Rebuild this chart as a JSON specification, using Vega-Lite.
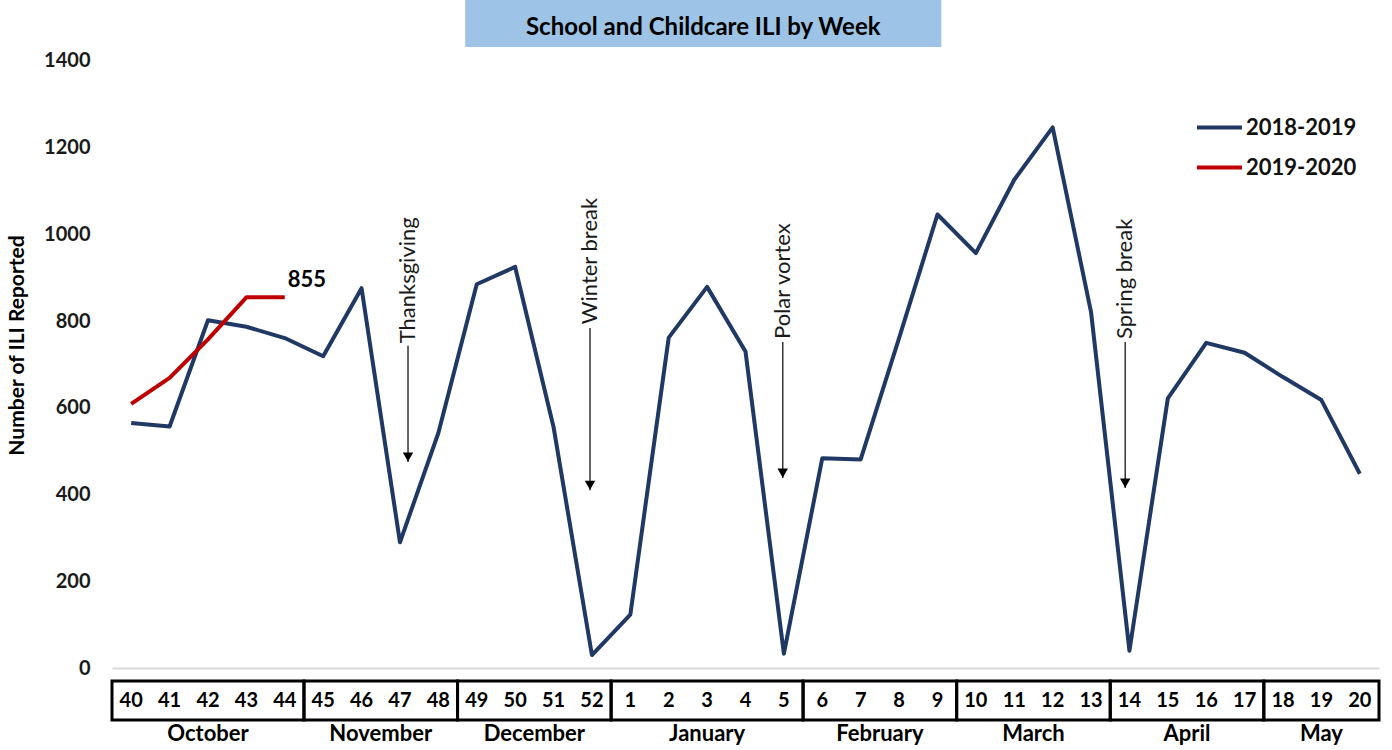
{
  "$schema": "https://vega.github.io/schema/vega-lite/v6.json",
  "width": 1267,
  "height": 750,
  "autosize": {"type": "none"},
  "padding": {"left": 112, "top": 0, "right": 13, "bottom": 0},
  "background": "white",
  "config": {"view": {"stroke": null}, "font": "Lato"},
  "datasets": {
    "ili": [
      {"week": "40", "idx": 0, "month": "October", "season": "2018-2019", "ili": 565},
      {"week": "41", "idx": 1, "month": "October", "season": "2018-2019", "ili": 557},
      {"week": "42", "idx": 2, "month": "October", "season": "2018-2019", "ili": 802},
      {"week": "43", "idx": 3, "month": "October", "season": "2018-2019", "ili": 787},
      {"week": "44", "idx": 4, "month": "October", "season": "2018-2019", "ili": 761},
      {"week": "45", "idx": 5, "month": "November", "season": "2018-2019", "ili": 719},
      {"week": "46", "idx": 6, "month": "November", "season": "2018-2019", "ili": 876},
      {"week": "47", "idx": 7, "month": "November", "season": "2018-2019", "ili": 290},
      {"week": "48", "idx": 8, "month": "November", "season": "2018-2019", "ili": 542},
      {"week": "49", "idx": 9, "month": "December", "season": "2018-2019", "ili": 885},
      {"week": "50", "idx": 10, "month": "December", "season": "2018-2019", "ili": 925},
      {"week": "51", "idx": 11, "month": "December", "season": "2018-2019", "ili": 556},
      {"week": "52", "idx": 12, "month": "December", "season": "2018-2019", "ili": 30},
      {"week": "1", "idx": 13, "month": "January", "season": "2018-2019", "ili": 123},
      {"week": "2", "idx": 14, "month": "January", "season": "2018-2019", "ili": 762},
      {"week": "3", "idx": 15, "month": "January", "season": "2018-2019", "ili": 879},
      {"week": "4", "idx": 16, "month": "January", "season": "2018-2019", "ili": 730},
      {"week": "5", "idx": 17, "month": "January", "season": "2018-2019", "ili": 33},
      {"week": "6", "idx": 18, "month": "February", "season": "2018-2019", "ili": 484},
      {"week": "7", "idx": 19, "month": "February", "season": "2018-2019", "ili": 481},
      {"week": "8", "idx": 20, "month": "February", "season": "2018-2019", "ili": 761},
      {"week": "9", "idx": 21, "month": "February", "season": "2018-2019", "ili": 1046},
      {"week": "10", "idx": 22, "month": "March", "season": "2018-2019", "ili": 957},
      {"week": "11", "idx": 23, "month": "March", "season": "2018-2019", "ili": 1126},
      {"week": "12", "idx": 24, "month": "March", "season": "2018-2019", "ili": 1247},
      {"week": "13", "idx": 25, "month": "March", "season": "2018-2019", "ili": 821},
      {"week": "14", "idx": 26, "month": "April", "season": "2018-2019", "ili": 40},
      {"week": "15", "idx": 27, "month": "April", "season": "2018-2019", "ili": 622},
      {"week": "16", "idx": 28, "month": "April", "season": "2018-2019", "ili": 750},
      {"week": "17", "idx": 29, "month": "April", "season": "2018-2019", "ili": 727},
      {"week": "18", "idx": 30, "month": "May", "season": "2018-2019", "ili": 671},
      {"week": "19", "idx": 31, "month": "May", "season": "2018-2019", "ili": 618},
      {"week": "20", "idx": 32, "month": "May", "season": "2018-2019", "ili": 448},
      {"week": "40", "idx": 0, "month": "October", "season": "2019-2020", "ili": 609},
      {"week": "41", "idx": 1, "month": "October", "season": "2019-2020", "ili": 669},
      {"week": "42", "idx": 2, "month": "October", "season": "2019-2020", "ili": 758},
      {"week": "43", "idx": 3, "month": "October", "season": "2019-2020", "ili": 855},
      {"week": "44", "idx": 4, "month": "October", "season": "2019-2020", "ili": 855}
    ],
    "notes": [
      {"label": "Thanksgiving", "pos": 7.21, "textAt": 749, "top": 743, "tip": 475},
      {"label": "Winter break", "pos": 11.95, "textAt": 793, "top": 784, "tip": 410},
      {"label": "Polar vortex", "pos": 16.97, "textAt": 759, "top": 752, "tip": 438},
      {"label": "Spring break", "pos": 25.89, "textAt": 759, "top": 752, "tip": 415}
    ],
    "one": [{"title": "School and Childcare ILI by Week"}]
  },
  "data": {"name": "ili"},
  "layer": [
    {
      "data": {"name": "one"},
      "mark": {"type": "rect", "fill": "#9DC3E6"},
      "encoding": {
        "x": {"datum": 8.7, "type": "quantitative"},
        "x2": {"datum": 21.1},
        "y": {"datum": 1432, "type": "quantitative"},
        "y2": {"datum": 1545}
      }
    },
    {
      "data": {"name": "one"},
      "mark": {"type": "text", "font": "Lato", "fontSize": 24, "fontWeight": "bold", "color": "black", "align": "center", "baseline": "middle"},
      "encoding": {
        "x": {"datum": 14.9, "type": "quantitative"},
        "y": {"datum": 1476, "type": "quantitative"},
        "text": {"field": "title"}
      }
    },
    {
      "mark": {"type": "line", "strokeWidth": 4, "strokeJoin": "round"},
      "encoding": {
        "x": {"field": "idx", "type": "quantitative", "scale": {"domain": [-0.5, 32.5], "nice": false, "zero": false},
          "axis": {"labels": false, "ticks": false, "grid": false, "domain": true, "domainColor": "#d9d9d9", "domainWidth": 2, "title": "", "offset": -82}},
        "y": {"field": "ili", "type": "quantitative", "scale": {"domain": [-189, 1540.6], "nice": false, "zero": false},
          "axis": {"values": [0, 200, 400, 600, 800, 1000, 1200, 1400], "format": "d", "ticks": false, "domain": false, "grid": false,
            "labelFont": "Lato", "labelFontSize": 20, "labelFontWeight": "bold", "labelColor": "#1a1a1a", "labelPadding": 22,
            "title": "Number of ILI Reported", "titleFont": "Lato", "titleFontSize": 21, "titleFontWeight": "bold", "titleColor": "black",
            "titleX": -95, "titleY": 345, "titleAngle": -90, "titleAlign": "center", "titleBaseline": "middle"}},
        "color": {"field": "season", "type": "nominal",
          "scale": {"domain": ["2018-2019", "2019-2020"], "range": ["#1F3864", "#C00000"]},
          "legend": {"orient": "none", "legendX": 1083, "legendY": 103, "title": null, "symbolType": "stroke", "symbolSize": 2025,
            "symbolStrokeWidth": 4, "labelFont": "Lato", "labelFontSize": 22, "labelFontWeight": "bold", "labelColor": "#111",
            "labelOffset": 2, "rowPadding": 4, "padding": 0}}
      }
    },
    {
      "transform": [
        {"filter": "datum.season === '2018-2019'"},
        {"aggregate": [{"op": "min", "field": "idx", "as": "lo"}, {"op": "max", "field": "idx", "as": "hi"}], "groupby": ["month"]}
      ],
      "mark": {"type": "rect", "filled": false, "color": "black", "strokeWidth": 3, "xOffset": -19.2, "x2Offset": 19.2},
      "encoding": {
        "x": {"field": "lo", "type": "quantitative"},
        "x2": {"field": "hi"},
        "y": {"datum": -30, "type": "quantitative"},
        "y2": {"datum": -120}
      }
    },
    {
      "transform": [{"filter": "datum.season === '2018-2019'"}],
      "mark": {"type": "text", "font": "Lato", "fontSize": 20, "fontWeight": "bold", "color": "black", "align": "center", "baseline": "middle"},
      "encoding": {
        "x": {"field": "idx", "type": "quantitative"},
        "y": {"datum": -75, "type": "quantitative"},
        "text": {"field": "week"}
      }
    },
    {
      "transform": [
        {"filter": "datum.season === '2018-2019'"},
        {"aggregate": [{"op": "mean", "field": "idx", "as": "mid"}], "groupby": ["month"]}
      ],
      "mark": {"type": "text", "font": "Lato", "fontSize": 22, "fontWeight": "bold", "color": "black", "align": "center", "baseline": "middle"},
      "encoding": {
        "x": {"field": "mid", "type": "quantitative"},
        "y": {"datum": -152, "type": "quantitative"},
        "text": {"field": "month"}
      }
    },
    {
      "transform": [{"filter": "datum.season === '2019-2020' && datum.week === '44'"}],
      "mark": {"type": "text", "font": "Lato", "fontSize": 22, "fontWeight": "bold", "color": "black", "align": "left", "baseline": "middle", "dx": 3, "dy": -17},
      "encoding": {
        "x": {"field": "idx", "type": "quantitative"},
        "y": {"field": "ili", "type": "quantitative"},
        "text": {"field": "ili"}
      }
    },
    {
      "data": {"name": "notes"},
      "mark": {"type": "rule", "color": "#333", "strokeWidth": 1.5},
      "encoding": {
        "x": {"field": "pos", "type": "quantitative"},
        "y": {"field": "top", "type": "quantitative"},
        "y2": {"field": "tip"}
      }
    },
    {
      "data": {"name": "notes"},
      "mark": {"type": "point", "shape": "triangle-down", "filled": true, "color": "black", "size": 110, "opacity": 1, "yOffset": -5},
      "encoding": {
        "x": {"field": "pos", "type": "quantitative"},
        "y": {"field": "tip", "type": "quantitative"}
      }
    },
    {
      "data": {"name": "notes"},
      "mark": {"type": "text", "font": "Lato", "fontSize": 22, "color": "#1a1a1a", "angle": 270, "align": "left", "baseline": "middle"},
      "encoding": {
        "x": {"field": "pos", "type": "quantitative"},
        "y": {"field": "textAt", "type": "quantitative"},
        "text": {"field": "label"}
      }
    }
  ]
}
